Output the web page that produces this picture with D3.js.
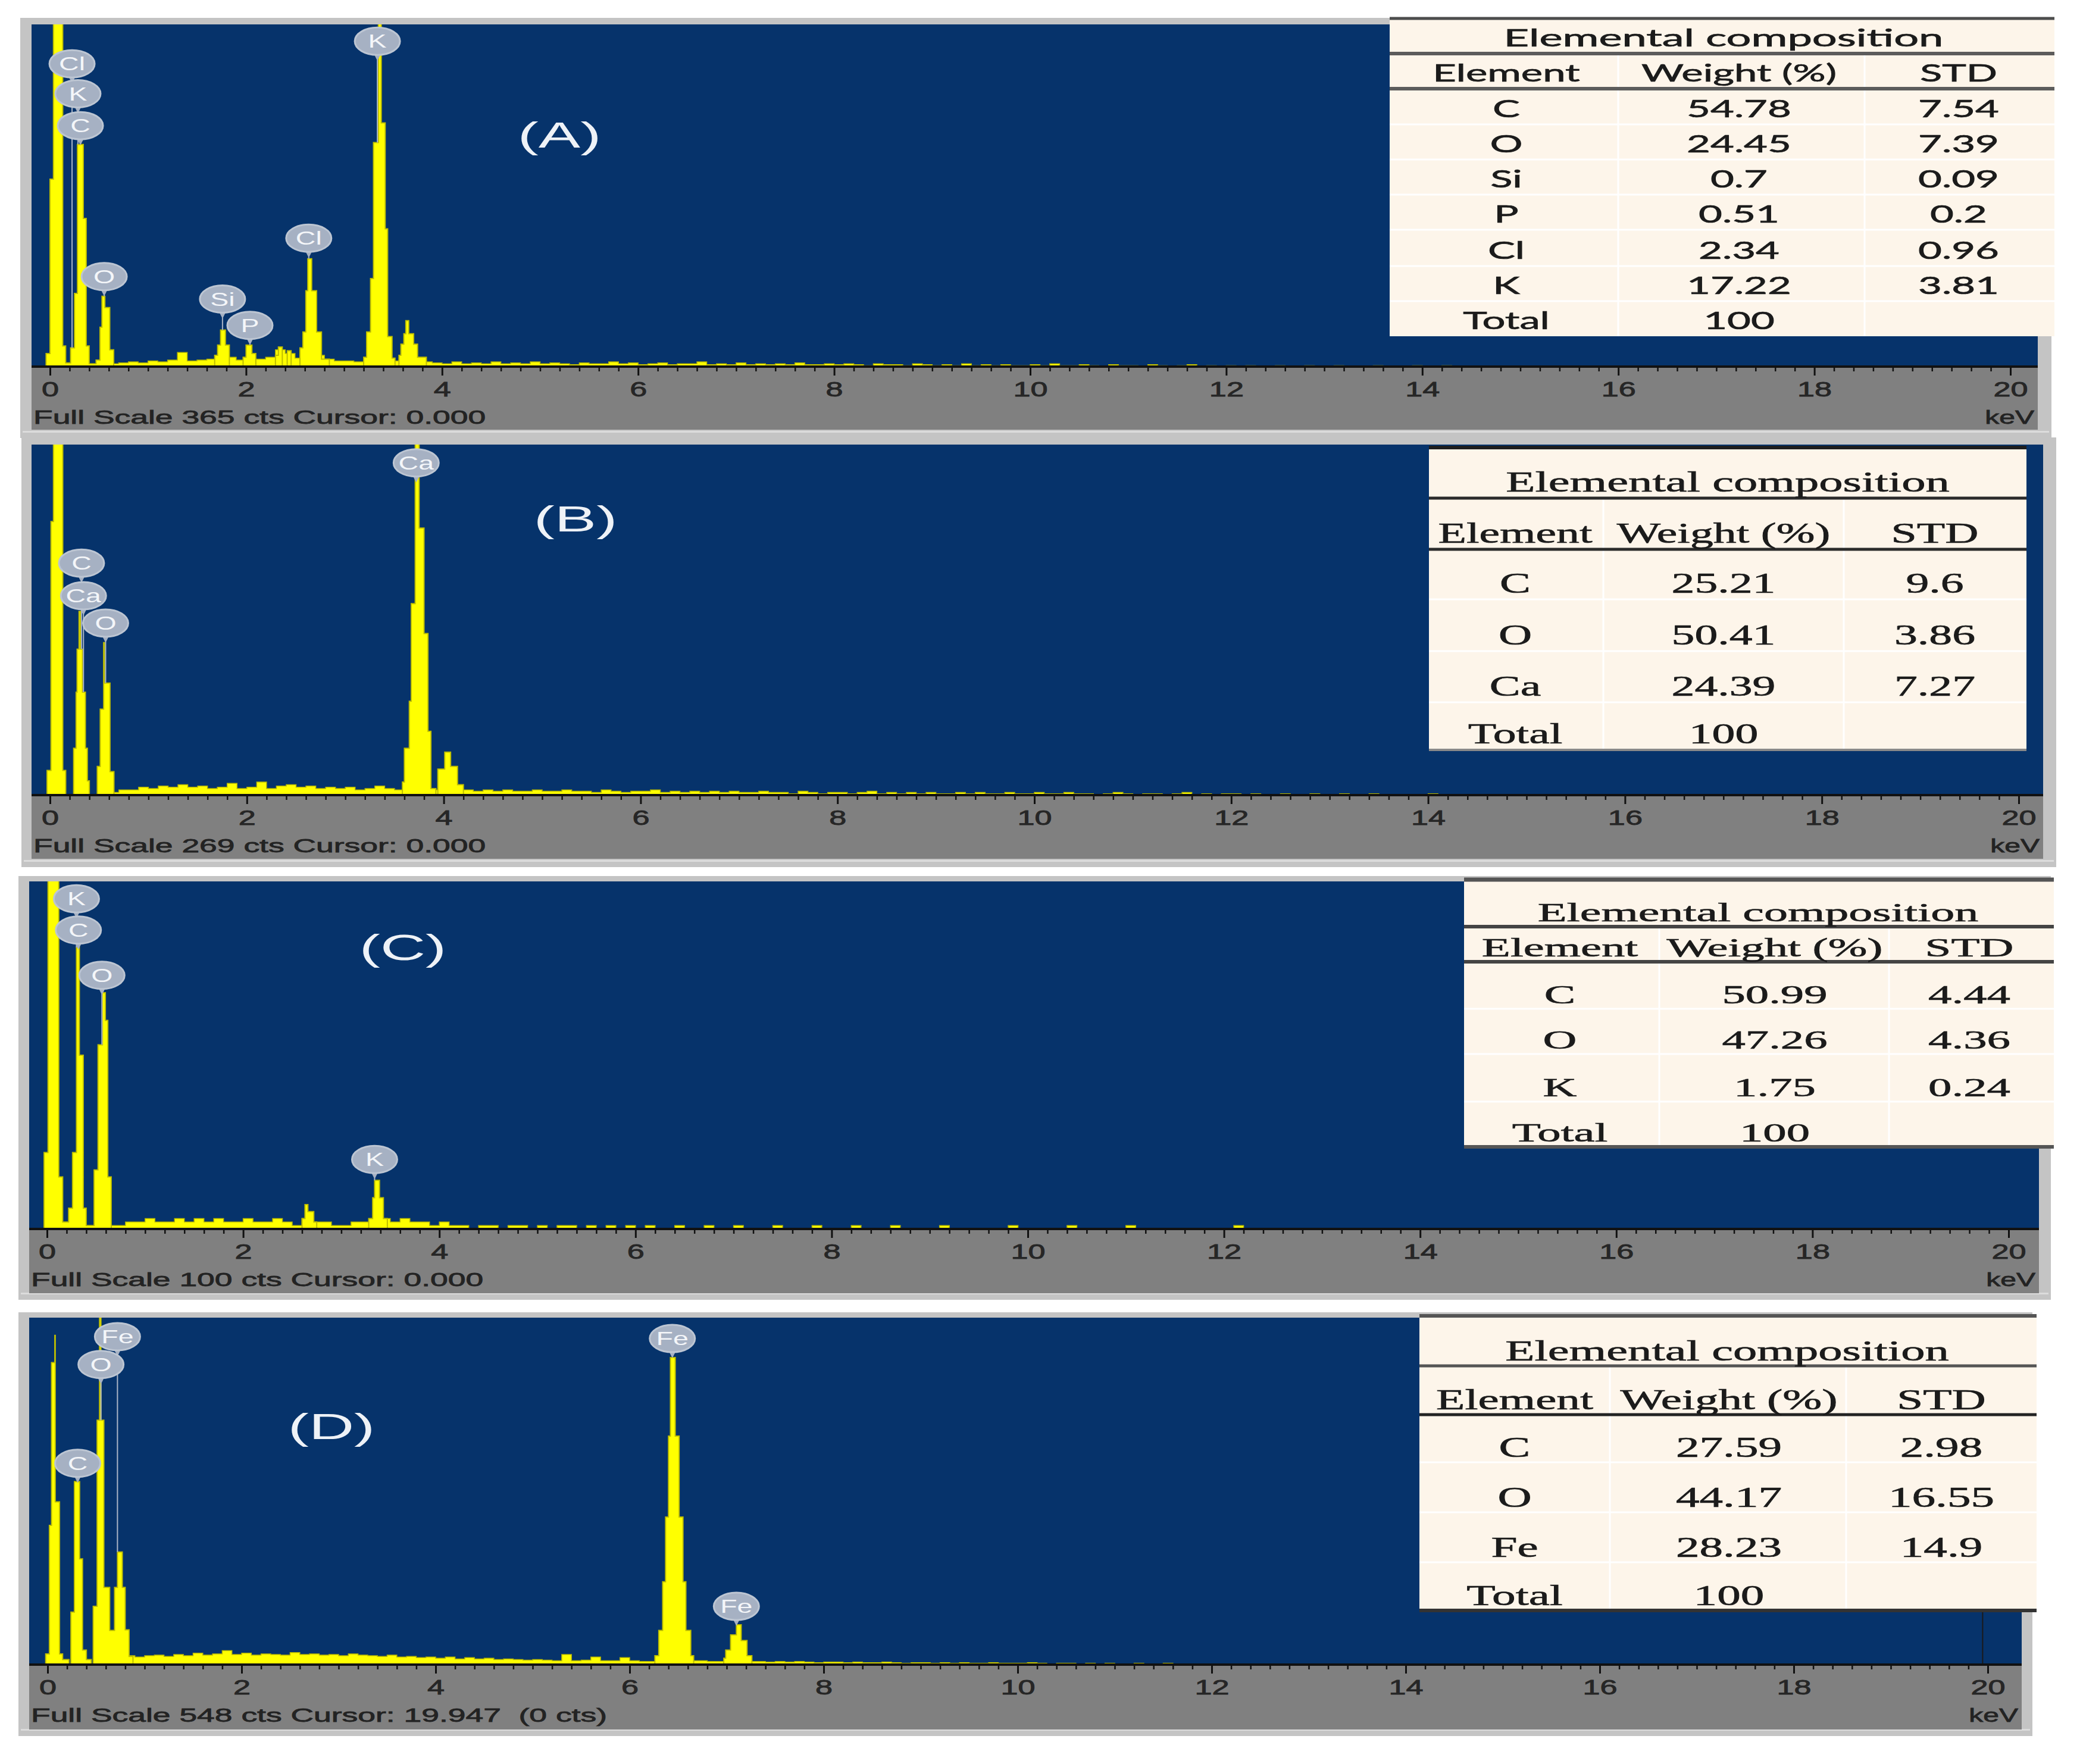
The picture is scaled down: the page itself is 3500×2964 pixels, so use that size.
<!DOCTYPE html>
<html>
<head>
<meta charset="utf-8">
<script src="https://cdn.jsdelivr.net/npm/d3@7"></script>
<style>
  body { margin: 0; background: #fff; }
  svg { display: block; }
  text { white-space: pre; }
</style>
</head>
<body>
<svg id="fig" width="3500" height="2964"></svg>
<script>
// ---- data ----
const panelNames = ['(A)', '(B)', '(C)', '(D)'];
const fullScale = [365, 269, 100, 548];
const cursorText = [
  'Full Scale 365 cts Cursor: 0.000',
  'Full Scale 269 cts Cursor: 0.000',
  'Full Scale 100 cts Cursor: 0.000',
  'Full Scale 548 cts Cursor: 19.947  (0 cts)'
];
const keVTicks = [0, 2, 4, 6, 8, 10, 12, 14, 16, 18, 20];

// peaks: [keV, counts] step points
const peaksA = [[-0.05,0],[-0.04,14],[0.00,200],[0.035,400],[0.13,22],[0.16,4],[0.21,20],[0.25,78],[0.28,237],[0.34,158],[0.37,22],[0.40,3],
  [0.47,7],[0.51,42],[0.53,75],[0.56,63],[0.61,18],[0.65,0],
  [1.68,12],[1.71,23],[1.74,39],[1.79,23],[1.83,0],
  [1.97,10],[2.00,23],[2.06,14],[2.10,0],
  [2.30,12],[2.33,21],[2.37,0],[2.42,17],[2.46,0],
  [2.55,20],[2.58,37],[2.61,81],[2.63,115],[2.67,81],[2.72,37],[2.77,8],[2.85,0],
  [3.20,10],[3.23,37],[3.27,94],[3.30,239],[3.35,380],[3.38,260],[3.42,147],[3.445,32],[3.49,9],[3.52,0],
  [3.56,12],[3.58,24],[3.61,35],[3.63,49],[3.66,35],[3.71,24],[3.75,10],[3.84,0]];
const peaksB = [[-0.05,0],[-0.03,19],[0.01,210],[0.035,300],[0.13,19],[0.16,0],
  [0.24,36],[0.265,79],[0.275,112],[0.295,141],[0.31,112],[0.33,79],[0.36,36],[0.38,11],[0.40,0],
  [0.48,22],[0.51,66],[0.545,117],[0.555,86],[0.61,18],[0.65,0],
  [3.58,10],[3.60,36],[3.65,72],[3.67,147],[3.71,280],[3.75,205],[3.80,124],[3.84,49],[3.87,5],[3.92,0],
  [3.94,20],[4.01,33],[4.07,22],[4.14,8],[4.20,0]];
const peaksC = [[-0.04,0],[-0.03,22],[0.01,110],[0.12,15],[0.16,2],[0.22,6],[0.26,22],[0.30,81],[0.33,50],[0.37,6],[0.40,1],
  [0.48,17],[0.52,53],[0.565,68],[0.595,60],[0.62,15],[0.655,0],
  [2.60,3],[2.63,7],[2.66,5],[2.72,2],[2.75,0],
  [3.28,3],[3.32,9],[3.34,14],[3.39,9],[3.43,3],[3.47,0]];
const peaksD = [[-0.03,0],[-0.02,17],[0.018,220],[0.04,477],[0.074,520],[0.079,257],[0.123,17],[0.155,8],[0.22,0],
  [0.24,83],[0.276,289],[0.33,167],[0.36,23],[0.40,8],[0.45,0],
  [0.47,92],[0.51,386],[0.535,560],[0.55,386],[0.58,122],[0.64,54],[0.69,122],[0.72,178],[0.77,122],[0.80,55],[0.84,13],[0.88,0],
  [6.26,14],[6.30,54],[6.34,131],[6.37,233],[6.40,361],[6.42,485],[6.47,361],[6.51,233],[6.55,131],[6.58,54],[6.63,14],[6.66,0],
  [6.97,10],[6.99,23],[7.04,47],[7.10,63],[7.15,38],[7.21,14],[7.26,0]];

// background counts in 0.1 keV bins starting at 0.6 keV
const bgStart = 0.6;
const bgStep = 0.1;
const bgA = [3,4,5,4,6,5,7,15,6,7, 8,9,10,7,9,8,10,18,14,9, 10,12,8,6,6,5,6,8,7,6, 8,7,5,4,3,5,3,4,3,5,
  3,4,3,5,3,4,3,2,4,3, 3,5,3,4,2,3,4,2,3,3, 5,2,3,2,4,2,3,2,3,2, 4,2,2,3,2,3,2,1,3,2,
  2,1,3,2,1,2,1,3,1,2, 1,2,1,1,2,1,3,1,1,2, 1,0,2,1,1,0,2,1,0,1, 2,0,1,0,1,0,1,0,0,1,
  0,0,1,0,0,1,0,0,0,1, 0,0,0,1,0,0,1,0,0,0];
const bgB = [2,4,4,6,5,7,6,8,6,7, 5,6,9,5,6,10,5,7,8,6, 7,5,6,5,6,4,5,7,5,4, 4,5,5,4,5,4,4,3,4,3,
  4,3,3,4,3,3,4,3,3,2, 4,3,2,3,3,4,2,3,2,3, 2,3,2,3,2,2,3,2,2,1, 3,2,1,2,2,1,2,3,1,2,
  1,2,1,2,1,1,2,1,2,1, 1,2,1,1,2,1,1,2,1,1, 0,1,2,1,0,1,1,0,1,2, 0,1,0,1,1,0,1,0,0,1,
  0,0,1,0,0,1,0,0,1,0, 0,0,0,0,1,0,0,0,0,0];
const bgC = [1,1,2,2,3,2,2,3,2,3, 2,3,2,2,3,2,2,3,2,1, 3,2,2,1,1,2,2,3,3,2, 3,2,2,1,2,1,1,0,1,1,
  0,1,1,0,1,0,1,1,0,1, 0,1,0,1,0,1,0,0,1,0, 0,1,0,0,1,0,0,0,1,0, 0,0,1,0,0,0,1,0,0,0,
  1,0,0,0,0,1,0,0,0,0, 0,0,1,0,0,0,0,0,1,0, 0,0,0,0,1,0,0,0,0,0, 0,0,0,0,0,1,0,0,0,0,
  0,0,0,0,0,0,0,0,0,0, 0,0,0,0,0,0,0,0,0,0];
const bgD = [10,12,14,12,14,15,13,16,14,18, 15,17,22,16,18,15,17,16,15,19, 16,17,15,16,14,17,15,14,13,15,
  12,13,11,12,10,12,9,11,9,10, 8,9,8,7,8,7,6,16,6,7, 12,6,6,11,6,5,5,5,5,5, 6,6,5,5,5,5,5,5,4,5,
  4,5,4,3,4,4,3,4,3,3, 4,3,2,3,3,2,3,2,3,2, 2,3,2,2,2,3,2,1,2,2, 1,2,1,2,1,1,2,1,1,2,
  1,0,1,1,0,1,0,1,0,1, 0,1,0,0,1,0,0,1,0,0, 0,0,1,0,0,0,0,1,0,0];

// element markers: [label, keV, counts at marker centre]
const marksA = [['Cl',0.225,323],['K',0.285,291],['C',0.31,257],['O',0.553,96],['Si',1.76,72],['P',2.04,44],['Cl',2.64,137],['K',3.34,347]];
const marksB = [['C',0.32,178],['Ca',0.34,153],['O',0.565,132],['Ca',3.72,255]];
const marksC = [['K',0.30,95],['C',0.32,86],['O',0.56,73],['K',3.34,20]];
const marksD = [['Fe',0.72,518],['O',0.55,474],['C',0.31,318],['Fe',6.44,515],['Fe',7.10,92]];

// composition tables
const tableTitle = 'Elemental composition';
const headers = ['Element', 'Weight (%)', 'STD'];
const elemA = ['C','O','Si','P','Cl','K','Total'];
const wtA = ['54.78','24.45','0.7','0.51','2.34','17.22','100'];
const stdA = ['7.54','7.39','0.09','0.2','0.96','3.81',''];
const elemB = ['C','O','Ca','Total'];
const wtB = ['25.21','50.41','24.39','100'];
const stdB = ['9.6','3.86','7.27',''];
const elemC = ['C','O','K','Total'];
const wtC = ['50.99','47.26','1.75','100'];
const stdC = ['4.44','4.36','0.24',''];
const elemD = ['C','O','Fe','Total'];
const wtD = ['27.59','44.17','28.23','100'];
const stdD = ['2.98','16.55','14.9',''];

const peaks = [peaksA, peaksB, peaksC, peaksD];
const bgs = [bgA, bgB, bgC, bgD];
const marks = [marksA, marksB, marksC, marksD];
const tableCols = [[elemA, wtA, stdA], [elemB, wtB, stdB], [elemC, wtC, stdC], [elemD, wtD, stdD]];

// ---- layout ----
const panels = [
  {frame: [34, 30, 3447, 736], plot: [53, 41, 3424], base: 616, band: 722, x0: 84, x20: 3378, label: [940, 248]},
  {frame: [36, 735, 3455, 1457], plot: [53, 747, 3433], base: 1336, band: 1443, x0: 84, x20: 3392, label: [967, 893]},
  {frame: [31, 1472, 3446, 2184], plot: [49, 1481, 3426], base: 2065, band: 2173, x0: 79, x20: 3375, label: [677, 1613]},
  {frame: [31, 2205, 3415, 2917], plot: [49, 2214, 3397], base: 2797, band: 2906, x0: 80, x20: 3340, label: [557, 2418]}
];

const tables = [
  {x0: 2335, x1: 3452, rows: [31,90,149,209,268,327,386,447,506,565], cx: [2531,2922,3291], tx: 2896,
   font: 'Lato, "Liberation Sans", sans-serif', size: 40, sx: 1.72, tsx: 1.85, pad: 12,
   rules: [[0,'#4d4d4d',5],[1,'#5c5c5c',6],[2,'#5c5c5c',6]], cols: [2719,3133]},
  {x0: 2401, x1: 3405, rows: [752,837,923,1007,1094,1180,1260], cx: [2546,2896,3251], tx: 2903,
   font: '"Liberation Serif", "DejaVu Serif", serif', size: 48, sx: 1.62, tsx: 1.68, pad: 11,
   rules: [[0,'#1e1e1e',6],[1,'#2b2b2b',5],[2,'#2b2b2b',5],[6,'#8a8a8a',4]], cols: [2694,3098]},
  {x0: 2460, x1: 3451, rows: [1478,1557,1616,1695,1771,1851,1927], cx: [2621,2982,3309], tx: 2954,
   font: '"Liberation Serif", "DejaVu Serif", serif', size: 45, sx: 1.75, tsx: 1.78, pad: 9,
   rules: [[0,'#555',7],[1,'#444',6],[2,'#444',6],[6,'#555',6]], cols: [2788,3174]},
  {x0: 2385, x1: 3422, rows: [2211,2295,2377,2457,2541,2625,2706], cx: [2545,2905,3262], tx: 2902,
   font: '"Liberation Serif", "DejaVu Serif", serif', size: 48, sx: 1.65, tsx: 1.68, pad: 9,
   rules: [[0,'#555',6],[1,'#555',5],[2,'#222',5],[6,'#333',6]], cols: [2705,3102]}
];

const BLUE = '#06336b';
const SANS = '"Liberation Sans", Arial, sans-serif';
const svg = d3.select('#fig');
const defs = svg.append('defs');

// text squeezed like the original (the figure was stretched sideways)
function wideText(sel, x, y, str, sx, anchor) {
  return sel.append('text')
    .attr('transform', `translate(${x},${y}) scale(${sx},1)`)
    .attr('text-anchor', anchor || 'middle')
    .text(str);
}

function levelAt(pts, e) {
  let v = 0;
  for (let k = 0; k < pts.length - 1; k++) {
    if (e >= pts[k][0] && e < pts[k + 1][0]) v = pts[k][1];
  }
  return v;
}

panels.forEach((p, i) => {
  const g = svg.append('g');
  const [fx0, fy0, fx1, fy1] = p.frame;
  const [px0, py0, px1] = p.plot;

  g.append('rect').attr('x', fx0).attr('y', fy0).attr('width', fx1 - fx0).attr('height', fy1 - fy0)
    .attr('fill', '#c4c4c4');
  g.append('rect').attr('x', fx0 + 4).attr('y', fy1 - 12).attr('width', fx1 - fx0 - 8).attr('height', 3)
    .attr('fill', '#dcdcdc');
  g.append('rect').attr('x', px0).attr('y', py0).attr('width', px1 - px0).attr('height', p.base - py0)
    .attr('fill', BLUE);
  g.append('rect').attr('x', px0).attr('y', p.base).attr('width', px1 - px0).attr('height', p.band - p.base)
    .attr('fill', '#808080');

  const x = d3.scaleLinear().domain([0, 20]).range([p.x0, p.x20]);
  const y = d3.scaleLinear().domain([0, fullScale[i]]).range([p.base, py0]);

  defs.append('clipPath').attr('id', 'clip' + i)
    .append('rect').attr('x', px0).attr('y', py0).attr('width', px1 - px0).attr('height', p.base - py0);

  const area = d3.area()
    .curve(d3.curveStepAfter)
    .x(d => x(d[0]))
    .y0(y(0))
    .y1(d => y(d[1]));

  const bgPts = bgs[i].map((v, k) => [bgStart + k * bgStep, v]);
  bgPts.push([bgStart + bgs[i].length * bgStep, 0]);

  const spec = g.append('g').attr('clip-path', `url(#clip${i})`);
  spec.append('path').datum(bgPts).attr('d', area)
    .attr('fill', '#ffff00').attr('stroke', '#b8b800').attr('stroke-width', 1.5);
  spec.append('path').datum(peaks[i]).attr('d', area)
    .attr('fill', '#ffff00').attr('stroke', '#bdbd00').attr('stroke-width', 2);

  // cursor line (only visible in D)
  if (i === 3) {
    g.append('line').attr('x1', x(19.947)).attr('x2', x(19.947)).attr('y1', py0).attr('y2', p.base)
      .attr('stroke', '#1a1a1a').attr('stroke-width', 2);
  }

  // axis
  g.append('line').attr('x1', px0).attr('x2', px1).attr('y1', p.base).attr('y2', p.base)
    .attr('stroke', '#111').attr('stroke-width', 4);

  const minor = d3.range(1, 100).filter(k => k % 10 !== 0).map(k => k / 5);
  const gMinor = g.append('g').attr('transform', `translate(0,${p.base})`)
    .call(d3.axisBottom(x).tickValues(minor).tickSize(8).tickFormat(''));
  gMinor.select('.domain').remove();
  gMinor.selectAll('line').attr('stroke', '#111').attr('stroke-width', 2.5);

  const gMajor = g.append('g').attr('transform', `translate(0,${p.base})`)
    .call(d3.axisBottom(x).tickValues(keVTicks).tickSize(15).tickFormat(d3.format('d')));
  gMajor.select('.domain').remove();
  gMajor.selectAll('line').attr('stroke', '#111').attr('stroke-width', 3);
  gMajor.selectAll('text')
    .attr('y', 50).attr('dy', null)
    .attr('transform', 'scale(1.45,1)')
    .attr('font-family', SANS).attr('font-size', 36)
    .attr('fill', '#262626').attr('stroke', '#262626').attr('stroke-width', 0.9);

  const foot = g.append('g').attr('font-family', SANS).attr('font-size', 32)
    .attr('fill', '#232323').attr('stroke', '#232323').attr('stroke-width', 0.8);
  wideText(foot, px0 + 3, p.base + 96, cursorText[i], 1.67, 'start');
  wideText(foot, px1 - 6, p.base + 96, 'keV', 1.5, 'end');

  // element markers
  const rx = 38, ry = 23;
  const mk = g.append('g');
  marks[i].forEach(m => {
    const cx = x(m[1]);
    const cy = y(m[2]);
    const top = y(Math.max(levelAt(peaks[i], m[1]), levelAt(bgPts, m[1])));
    if (top > cy + ry + 10) {
      mk.append('line').attr('x1', cx).attr('x2', cx).attr('y1', cy + ry + 8).attr('y2', top)
        .attr('stroke', '#aab5c6').attr('stroke-width', 2);
    }
  });
  marks[i].forEach(m => {
    const cx = x(m[1]);
    const cy = y(m[2]);
    mk.append('path')
      .attr('d', `M${cx - 7},${cy + ry - 4}L${cx + 7},${cy + ry - 4}L${cx},${cy + ry + 10}Z`)
      .attr('fill', '#a6b1c3');
    mk.append('ellipse').attr('cx', cx).attr('cy', cy).attr('rx', rx).attr('ry', ry)
      .attr('fill', '#a6b1c3').attr('stroke', '#bcc5d2').attr('stroke-width', 3);
    wideText(mk, cx, cy + 11, m[0], 1.5)
      .attr('font-family', SANS).attr('font-size', 31).attr('fill', '#f4f6f9');
  });

  wideText(g, p.label[0], p.label[1], panelNames[i], 1.7)
    .attr('font-family', SANS).attr('font-size', 62).attr('fill', '#eef2f7');
});

// composition tables
tables.forEach((t, i) => {
  const g = svg.append('g');
  const rows = t.rows;
  const bottom = rows[rows.length - 1];
  g.append('rect').attr('x', t.x0).attr('y', rows[0]).attr('width', t.x1 - t.x0).attr('height', bottom - rows[0])
    .attr('fill', '#fdf5ea');

  for (let k = 3; k < rows.length - 1; k++) {
    g.append('line').attr('x1', t.x0).attr('x2', t.x1).attr('y1', rows[k]).attr('y2', rows[k])
      .attr('stroke', '#ffffff').attr('stroke-width', 3);
  }
  t.cols.forEach(c => {
    g.append('line').attr('x1', c).attr('x2', c).attr('y1', rows[1]).attr('y2', bottom)
      .attr('stroke', '#ffffff').attr('stroke-width', 3);
  });
  t.rules.forEach(r => {
    g.append('line').attr('x1', t.x0).attr('x2', t.x1).attr('y1', rows[r[0]]).attr('y2', rows[r[0]])
      .attr('stroke', r[1]).attr('stroke-width', r[2]);
  });

  const txt = g.append('g').attr('font-family', t.font).attr('font-size', t.size)
    .attr('fill', '#1b1b1b').attr('stroke', '#1b1b1b').attr('stroke-width', 0.7);
  wideText(txt, t.tx, rows[1] - t.pad, tableTitle, t.tsx);
  headers.forEach((h, c) => wideText(txt, t.cx[c], rows[2] - t.pad, h, t.sx));
  const cols = tableCols[i];
  cols[0].forEach((el, r) => {
    const yb = rows[r + 3] - t.pad;
    wideText(txt, t.cx[0], yb, el, t.sx);
    wideText(txt, t.cx[1], yb, cols[1][r], t.sx);
    if (cols[2][r]) wideText(txt, t.cx[2], yb, cols[2][r], t.sx);
  });
});
</script>
</body>
</html>
